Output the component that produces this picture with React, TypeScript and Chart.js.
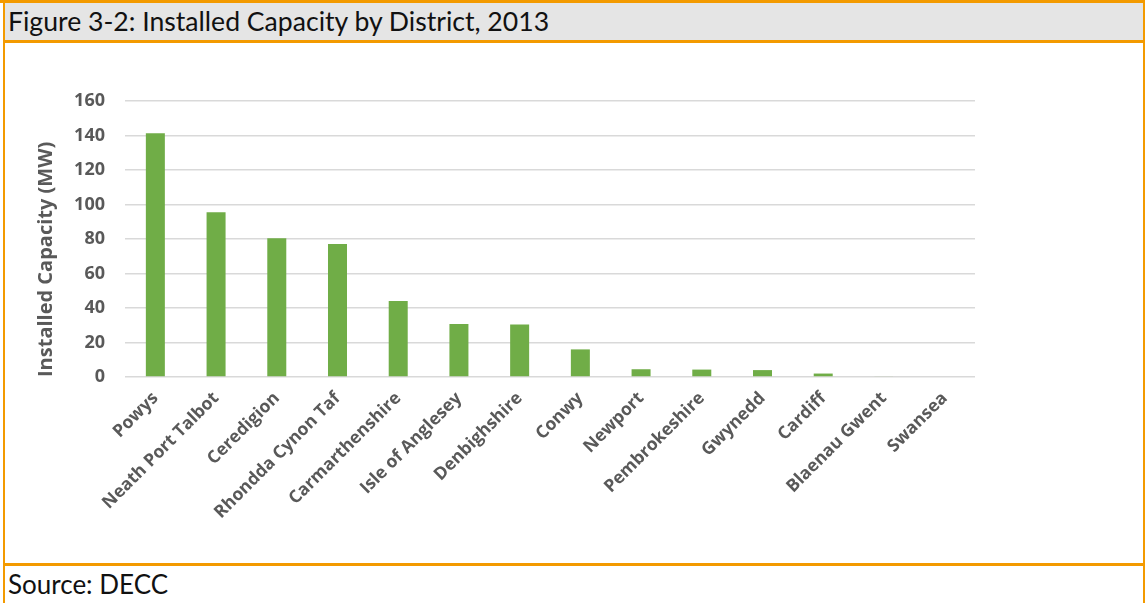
import React, { useEffect, useRef } from "react";
import { Chart, registerables } from "chart.js";

Chart.register(...registerables);

const districts = [
  "Powys",
  "Neath Port Talbot",
  "Ceredigion",
  "Rhondda Cynon Taf",
  "Carmarthenshire",
  "Isle of Anglesey",
  "Denbighshire",
  "Conwy",
  "Newport",
  "Pembrokeshire",
  "Gwynedd",
  "Cardiff",
  "Blaenau Gwent",
  "Swansea",
];

const capacityMW = [141.3, 95.5, 80.4, 77.1, 44, 30.7, 30.5, 16, 4.5, 4.3, 4, 2, 0.4, 0];

const yTickMin = 0;
const yTickMax = 160;
const yTickStep = 20;

const titleText = "Figure 3-2: Installed Capacity by District, 2013";
const sourceText = "Source: DECC";
const yAxisTitle = "Installed Capacity (MW)";

const ORANGE = "#f39a00";
const FONT = "Lato, 'Open Sans', sans-serif";
const AXFONT = "'Open Sans', 'Noto Sans', sans-serif";

export default function App() {
  const canvasRef = useRef<HTMLCanvasElement | null>(null);

  useEffect(() => {
    document.body.style.margin = "0";
    const canvas = canvasRef.current;
    if (!canvas) return;
    const chart = new Chart(canvas, {
      type: "bar",
      data: {
        labels: districts,
        datasets: [
          {
            data: capacityMW,
            backgroundColor: "#70ad47",
            borderWidth: 0,
            barPercentage: 0.313,
            categoryPercentage: 1,
          },
        ],
      },
      options: {
        animation: false,
        responsive: false,
        devicePixelRatio: 1,
        layout: { padding: { top: 58, right: 168, left: 0, bottom: 0 } },
        plugins: {
          legend: { display: false },
          tooltip: { enabled: false },
        },
        scales: {
          x: {
            grid: { display: false, drawTicks: false },
            border: { display: false },
            ticks: {
              minRotation: 45,
              maxRotation: 45,
              autoSkip: false,
              padding: 11,
              color: "#595959",
              font: { family: AXFONT, size: 17.5, weight: "bold" },
            },
            afterFit: (scale: any) => {
              scale.height = 186;
            },
          },
          y: {
            min: yTickMin,
            max: yTickMax,
            grid: { color: "#d9d9d9", lineWidth: 1.5, drawTicks: false },
            border: { display: false },
            ticks: {
              stepSize: yTickStep,
              padding: 20,
              color: "#595959",
              font: { family: AXFONT, size: 18, weight: "bold" },
            },
            title: {
              display: true,
              text: yAxisTitle,
              align: "start",
              color: "#595959",
              font: { family: AXFONT, size: 20, weight: "bold" },
              padding: { top: 29, bottom: 0 },
            },
            afterFit: (scale: any) => {
              scale.width = 120;
            },
          },
        },
      },
    });
    return () => chart.destroy();
  }, []);

  return (
    <div
      style={{
        position: "absolute",
        left: 0,
        top: 0,
        width: 1145,
        height: 603,
        background: "#ffffff",
        fontFamily: FONT,
        overflow: "hidden",
      }}
    >
      <div style={{ position: "absolute", left: 0, top: 0, width: 1145, height: 3, background: ORANGE }} />
      <div
        style={{
          position: "absolute",
          left: 5,
          top: 3,
          width: 1139,
          height: 37,
          background: "#e5e5e5",
          color: "#111111",
          fontSize: 26.6,
          lineHeight: "37px",
          paddingLeft: 3,
          boxSizing: "border-box",
          whiteSpace: "nowrap",
        }}
      >
        {titleText}
      </div>
      <div style={{ position: "absolute", left: 3, top: 40, width: 1142, height: 3, background: ORANGE }} />
      <div style={{ position: "absolute", left: 3, top: 0, width: 2, height: 603, background: ORANGE }} />
      <div style={{ position: "absolute", left: 1143, top: 0, width: 2, height: 603, background: ORANGE }} />
      <div style={{ position: "absolute", left: 3, top: 563, width: 1142, height: 3, background: ORANGE }} />
      <canvas
        ref={canvasRef}
        width={1138}
        height={520}
        style={{ position: "absolute", left: 5, top: 43, width: 1138, height: 520 }}
      />
      <div
        style={{
          position: "absolute",
          left: 5,
          top: 566,
          height: 37,
          lineHeight: "37px",
          paddingLeft: 3,
          fontSize: 26,
          color: "#111111",
          whiteSpace: "nowrap",
        }}
      >
        {sourceText}
      </div>
    </div>
  );
}
